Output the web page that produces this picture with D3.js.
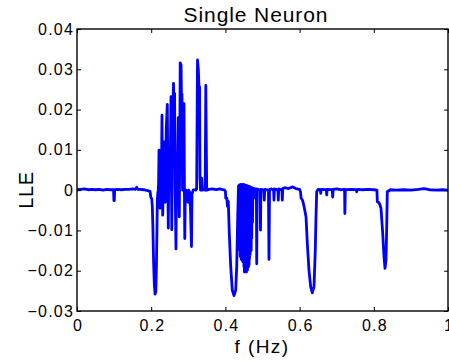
<!DOCTYPE html>
<html><head><meta charset="utf-8">
<script src="https://cdn.jsdelivr.net/npm/d3@7"></script>
<style>
body{margin:0;background:#fff;overflow:hidden}
svg{display:block}
text{font-family:"Liberation Sans",Arial,Helvetica,sans-serif;fill:#000}
</style>
</head><body><svg id="c" width="449" height="362"></svg>
<script>
// ---- axis ticks ----
const xTicks=[0,0.2,0.4,0.6,0.8,1];
const xTickLabels=["0","0.2","0.4","0.6","0.8","1"];
const yTicks=[-0.03,-0.02,-0.01,0,0.01,0.02,0.03,0.04];
const yTickLabels=["\u22120.03","\u22120.02","\u22120.01","0","0.01","0.02","0.03","0.04"];
const titleText="Single Neuron";
const xLabel="f (Hz)";
const yLabel="LLE";

// ---- series: [f (Hz), LLE] ----
const baselineA=[[0.000,0.0001],[0.010,0.0002],[0.020,0.0003],[0.030,0.0001],[0.040,0.0002],[0.050,0.0001],[0.060,0.0002],[0.070,0.0000],[0.080,0.0002],[0.090,0.0001],[0.0985,0.0001],[0.0995,-0.0026],[0.1005,-0.0026],[0.1015,0.0001],[0.110,0.0002],[0.120,0.0001],[0.130,0.0002],[0.140,0.0002],[0.150,0.0003],[0.158,0.0002],[0.161,0.0007],[0.164,0.0002],[0.170,0.0002],[0.180,0.0001],[0.190,-0.0001],[0.197,-0.0003]];
const dip1=[[0.199,-0.0018],[0.2015,-0.0022],[0.203,-0.004],[0.2045,-0.009],[0.2065,-0.018],[0.2085,-0.0235],[0.2105,-0.0258],[0.2125,-0.0252],[0.2140,-0.019],[0.2155,-0.010],[0.2165,-0.0025],[0.2180,-0.0005]];
const cluster1=[[0.2190,0.0000],[0.2200,0.0020],[0.2210,0.0099],[0.2222,-0.0020],[0.2237,-0.0045],[0.2252,0.0030],[0.2272,0.0000],[0.2291,0.0186],[0.2300,0.0080],[0.2310,-0.0062],[0.2330,0.0040],[0.2355,0.0120],[0.2380,-0.0030],[0.2405,0.0150],[0.2435,0.0213],[0.2447,0.0050],[0.2461,-0.0094],[0.2480,0.0100],[0.2505,0.0000],[0.2534,0.0232],[0.2545,0.0020],[0.2555,-0.0098],[0.2572,0.0120],[0.2601,0.0265],[0.2615,0.0200],[0.2630,0.0240],[0.2647,0.0000],[0.2668,-0.0146],[0.2685,0.0050],[0.2705,0.0020],[0.2730,0.0180],[0.2757,-0.0066],[0.2770,0.0100],[0.2782,0.0316],[0.2805,0.0310],[0.2815,0.0238],[0.2830,0.0238],[0.2845,0.0000],[0.2862,0.0050],[0.2884,0.0215],[0.2895,0.0000],[0.2905,-0.0120],[0.2918,-0.0020],[0.2940,0.0000],[0.2970,-0.0008],[0.2995,-0.0030],[0.3010,0.0000],[0.3035,-0.0005],[0.3060,-0.0050],[0.3086,-0.0140],[0.3100,-0.0010],[0.3130,0.0000],[0.3160,0.0001],[0.3200,0.0000],[0.3225,0.0003],[0.3248,0.0323],[0.3270,0.0300],[0.3288,0.0256],[0.3305,0.0256],[0.3315,0.0033],[0.3330,0.0000],[0.3361,0.0030],[0.3380,0.0000],[0.3430,0.0002],[0.3455,0.0000],[0.3472,0.0260],[0.3496,0.0000]];
const baselineB=[[0.3550,0.0002],[0.3650,0.0003],[0.3750,0.0001],[0.3850,0.0003],[0.3930,0.0001],[0.3980,0.0000]];
const dip2=[[0.4000,-0.0003],[0.4010,-0.0020],[0.4040,-0.0020],[0.4055,-0.0040],[0.4078,-0.0028],[0.4105,-0.0107],[0.4143,-0.0190],[0.4186,-0.0248],[0.4232,-0.0262],[0.4278,-0.0248],[0.4305,-0.0190],[0.4332,-0.0066],[0.4348,-0.0008]];
const cluster2=[[0.4353,0.0010],[0.4360,-0.0080],[0.4366,0.0012],[0.4373,-0.0120],[0.4380,0.0013],[0.4387,-0.0150],[0.4394,0.0010],[0.4401,-0.0165],[0.4408,0.0014],[0.4415,-0.0160],[0.4422,0.0012],[0.4429,-0.0172],[0.4436,0.0010],[0.4443,-0.0170],[0.4450,0.0014],[0.4457,-0.0175],[0.4464,0.0012],[0.4471,-0.0178],[0.4478,0.0013],[0.4485,-0.0175],[0.4492,0.0014],[0.4499,-0.0190],[0.4506,0.0012],[0.4513,-0.0203],[0.4520,0.0013],[0.4527,-0.0203],[0.4534,0.0012],[0.4541,-0.0203],[0.4548,0.0011],[0.4555,-0.0203],[0.4562,0.0012],[0.4569,-0.0203],[0.4576,0.0010],[0.4583,-0.0200],[0.4590,0.0011],[0.4597,-0.0198],[0.4604,0.0010],[0.4611,-0.0192],[0.4618,0.0009],[0.4625,-0.0190],[0.4632,0.0008],[0.4639,-0.0185],[0.4646,0.0009],[0.4653,-0.0170],[0.4660,0.0008],[0.4667,-0.0160],[0.4674,0.0007],[0.4681,-0.0150],[0.4688,0.0007],[0.4695,-0.0150],[0.4702,0.0006],[0.4710,-0.0120],[0.4720,0.0006],[0.4731,-0.0080],[0.4741,0.0005],[0.4763,-0.0020],[0.4784,0.0004],[0.4810,0.0003],[0.4835,0.0000],[0.4844,-0.0183],[0.4855,0.0003],[0.4880,0.0002],[0.4935,0.0000],[0.4946,-0.0099],[0.4957,0.0002],[0.5035,0.0000],[0.5049,-0.0025],[0.5060,0.0002],[0.5160,0.0000],[0.5175,-0.0172],[0.5190,0.0002],[0.5240,0.0003],[0.5300,0.0000],[0.5310,-0.0025],[0.5320,0.0003],[0.5415,0.0000],[0.5426,-0.0025],[0.5437,0.0003],[0.5525,0.0000],[0.5534,-0.0025],[0.5545,0.0004]];
const baselineC=[[0.5600,0.0006],[0.5700,0.0004],[0.5814,0.0008],[0.5900,0.0004],[0.6000,0.0002],[0.6025,-0.0005]];
const dip3=[[0.6040,-0.0020],[0.6080,-0.0025],[0.6119,-0.0040],[0.6173,-0.0066],[0.6208,-0.0132],[0.6253,-0.0199],[0.6299,-0.0240],[0.6342,-0.0255],[0.6388,-0.0240],[0.6423,-0.0149],[0.6442,-0.0066],[0.6461,-0.0004]];
const baselineD=[[0.6500,0.0002],[0.6560,0.0001],[0.6569,-0.0008],[0.6580,0.0002],[0.6720,0.0001],[0.6730,-0.0012],[0.6742,0.0002],[0.6880,0.0001],[0.6892,-0.0017],[0.6905,0.0002],[0.7000,0.0003],[0.7100,0.0001],[0.7212,0.0002],[0.7220,-0.0058],[0.7232,0.0001],[0.7400,0.0002],[0.7530,0.0001],[0.7539,-0.0004],[0.7550,0.0002],[0.7700,0.0001],[0.7850,0.0002],[0.8000,0.0001],[0.8085,0.0000]];
const dip4=[[0.8094,-0.0029],[0.8130,-0.0030],[0.8160,-0.0035],[0.8194,-0.0045],[0.8240,-0.0107],[0.8275,-0.0165],[0.8302,-0.0194],[0.8329,-0.0174],[0.8348,-0.0091],[0.8364,-0.0004]];
const baselineE=[[0.8450,0.0001],[0.8600,0.0000],[0.8800,0.0001],[0.9000,0.0000],[0.9200,0.0002],[0.9353,0.0004],[0.9500,0.0001],[0.9700,0.0000],[0.9850,0.0001],[1.0000,0.0000]];

const series=[].concat(baselineA,dip1,cluster1,baselineB,dip2,cluster2,baselineC,dip3,baselineD,dip4,baselineE);

// ---- layout ----
const m={l:77,t:29,w:371,h:282};
const svg=d3.select("#c");
const x=d3.scaleLinear().domain([0,1]).range([m.l,m.l+m.w]);
const y=d3.scaleLinear().domain([-0.03,0.04]).range([m.t+m.h,m.t]);

svg.append("clipPath").attr("id","clip").append("rect")
  .attr("x",m.l).attr("y",m.t).attr("width",m.w).attr("height",m.h);

// line
svg.append("path").datum(series)
  .attr("clip-path","url(#clip)")
  .attr("fill","none").attr("stroke","#0000ff").attr("stroke-width",2.8)
  .attr("stroke-linejoin","round")
  .attr("d",d3.line().x(d=>x(d[0])).y(d=>y(d[1])));

const tickFont=16, ls=1.2;
// bottom axis
const gb=svg.append("g").attr("transform",`translate(0,${m.t+m.h})`)
  .call(d3.axisBottom(x).tickValues(xTicks).tickFormat((d,i)=>xTickLabels[i]).tickSizeInner(-4).tickSizeOuter(0).tickPadding(9));
// top axis (ticks only)
const gt=svg.append("g").attr("transform",`translate(0,${m.t})`)
  .call(d3.axisTop(x).tickValues(xTicks).tickFormat("").tickSizeInner(-4).tickSizeOuter(0));
// left axis
const gl=svg.append("g").attr("transform",`translate(${m.l},0)`)
  .call(d3.axisLeft(y).tickValues(yTicks).tickFormat((d,i)=>yTickLabels[i]).tickSizeInner(-4).tickSizeOuter(0).tickPadding(3));
// right axis (ticks only)
const gr=svg.append("g").attr("transform",`translate(${m.l+m.w},0)`)
  .call(d3.axisRight(y).tickValues(yTicks).tickFormat("").tickSizeInner(-4).tickSizeOuter(0));

[gb,gt,gl,gr].forEach(g=>{
  g.select(".domain").remove();
  g.selectAll("line").attr("stroke","#000").attr("stroke-width",1);
  g.selectAll("text").attr("font-size",tickFont).attr("letter-spacing",ls)
    .attr("font-family",'"Liberation Sans",Arial,sans-serif').attr("fill","#000");
});
gb.selectAll("text").attr("dx",ls/2);

// box
svg.append("rect").attr("x",m.l).attr("y",m.t).attr("width",m.w).attr("height",m.h)
  .attr("fill","none").attr("stroke","#000").attr("stroke-width",1.4);

// title & labels
svg.append("text").attr("x",256).attr("y",22).attr("text-anchor","middle")
  .attr("font-size",21).attr("letter-spacing",0.9).text(titleText);
svg.append("text").attr("x",262).attr("y",353).attr("text-anchor","middle")
  .attr("font-size",19).attr("letter-spacing",1.4).text(xLabel);
svg.append("text").attr("transform","translate(33,190) rotate(-90)").attr("text-anchor","middle")
  .attr("font-size",20).attr("letter-spacing",0.6).text(yLabel);
</script>
</body></html>
